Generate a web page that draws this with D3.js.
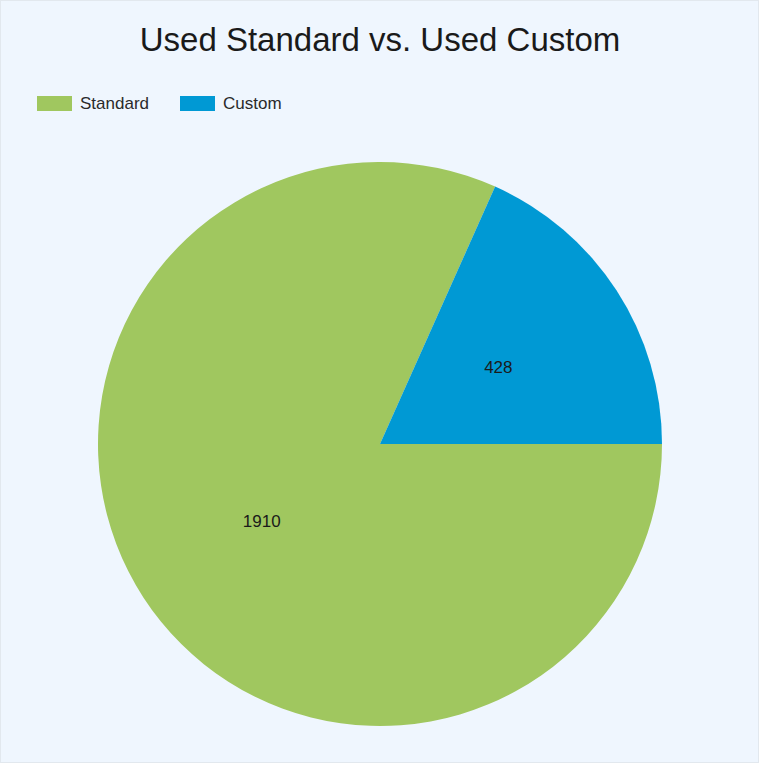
<!DOCTYPE html>
<html><head><meta charset="utf-8">
<script src="https://cdn.jsdelivr.net/npm/d3@7"></script>
<style>html,body{margin:0;padding:0;background:#eff6fe;}svg{display:block;}
text{font-family:"Liberation Sans", Arial, Helvetica, sans-serif;}</style>
</head><body>
<svg id="c" width="759" height="763"></svg>
<script>
const categories = ["Standard", "Custom"];
const values = [1910, 428];
const colors = ["#a0c75f", "#0099d4"];
const title = "Used Standard vs. Used Custom";

const svg = d3.select("#c");
svg.append("rect").attr("x",0.5).attr("y",0.5).attr("width",758).attr("height",762)
  .attr("fill","#eff6fe").attr("stroke","#e2e8ee");

svg.append("text").attr("x",380).attr("y",51).attr("text-anchor","middle")
  .attr("font-size",33)
  .attr("fill","#1a1a1a").text(title);

const color = d3.scaleOrdinal().domain(categories).range(colors);

const leg = svg.append("g").attr("font-size",17);
const legX = [37, 180];
categories.forEach((c,i)=>{
  leg.append("rect").attr("x",legX[i]).attr("y",96).attr("width",35).attr("height",15).attr("fill",color(c));
  leg.append("text").attr("x",legX[i]+43).attr("y",109).attr("fill","#2a2a2a").text(c);
});

const cx = 380, cy = 444, R = 282;
const data = categories.map((c,i)=>({cat:c, value:values[i]}));
const pie = d3.pie().value(d=>d.value).sort(null).startAngle(Math.PI/2).endAngle(Math.PI/2+2*Math.PI);
const arcs = pie(data);
const arc = d3.arc().innerRadius(0).outerRadius(R);
const labelArc = d3.arc().innerRadius(R/2).outerRadius(R/2);
const g = svg.append("g").attr("transform",`translate(${cx},${cy})`);
g.selectAll("path").data(arcs).join("path").attr("d",arc).attr("fill",d=>color(d.data.cat));
g.selectAll("text").data(arcs).join("text")
  .attr("transform",d=>{const [x,y]=labelArc.centroid(d);return `translate(${x},${y})`;})
  .attr("text-anchor","middle").attr("dy","0.35em")
  .attr("font-size",17)
  .attr("fill","#1a1a1a").text(d=>d.data.value);
</script>
</body></html>
